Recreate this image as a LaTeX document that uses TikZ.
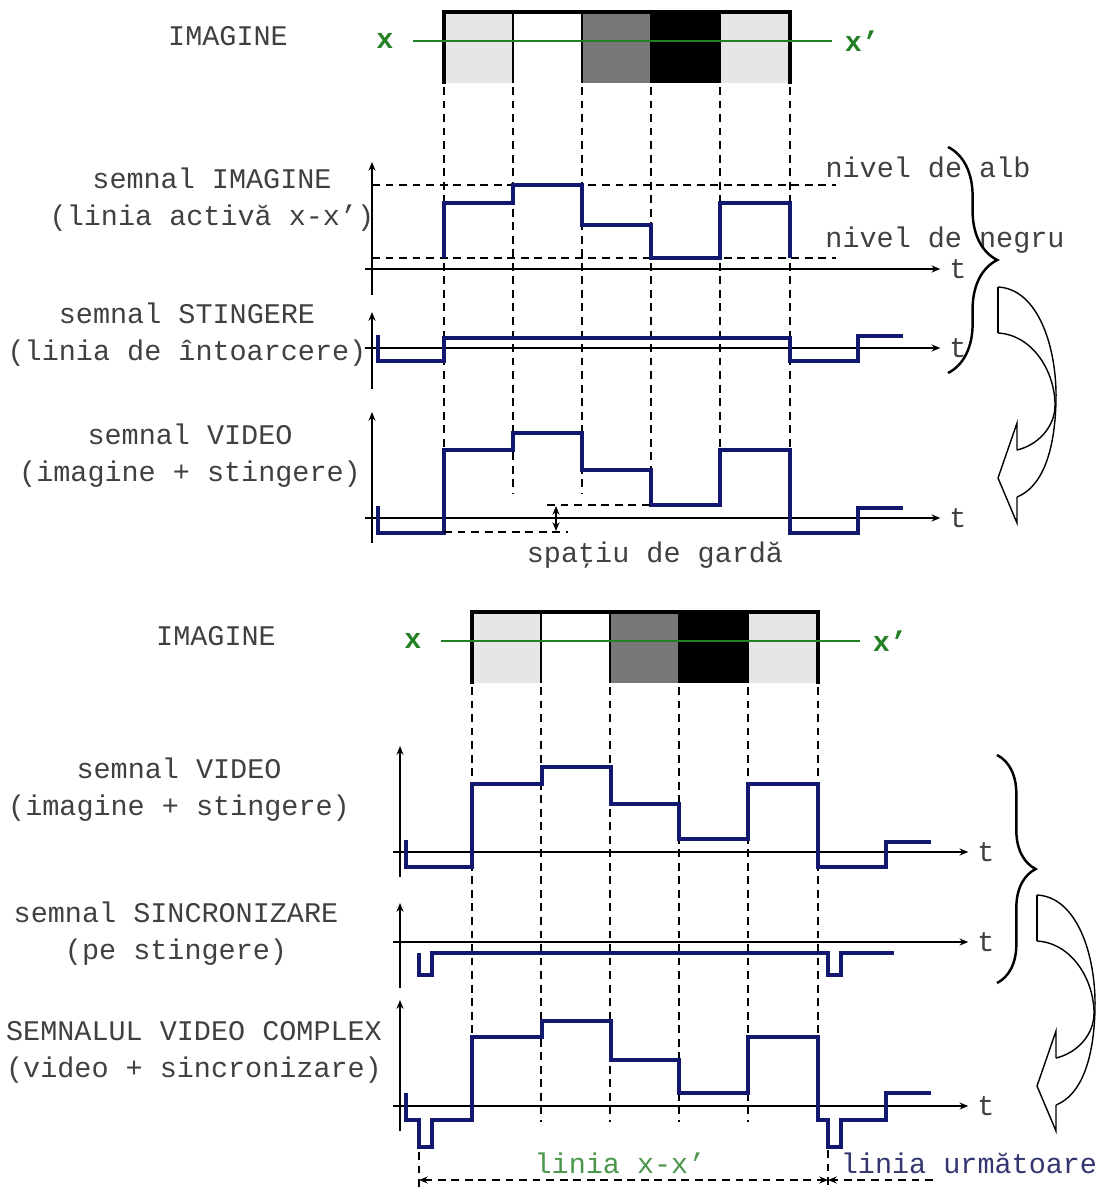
\documentclass[tikz,border=0pt]{standalone}
\usepackage{fontspec}
\usetikzlibrary{arrows.meta, decorations.pathreplacing}
\newfontfamily\courierfont{Liberation Mono}
\definecolor{signalnavy}{RGB}{18,24,112}
\definecolor{scangreen}{RGB}{36,128,36}
\definecolor{spangreen}{RGB}{74,150,74}
\definecolor{nextblue}{RGB}{52,54,112}
\definecolor{lightcell}{RGB}{230,230,230}
\definecolor{midcell}{RGB}{120,120,120}
\tikzset{
    axis/.style={-{Stealth[length=5pt, width=4pt]}, line width=0.95pt},
    level/.style={dash pattern=on 4.5pt off 3.2pt, line width=0.95pt},
    guide/.style={level},
    signal/.style={line width=1.9pt, signalnavy},
    scanline/.style={line width=1.1pt, scangreen},
    txt/.style={font=\courierfont\fontsize{16.2}{21}\selectfont, text=black!75, align=center, inner sep=0pt},
    xlabel/.style={font=\courierfont\bfseries\fontsize{16.2}{21}\selectfont, text=scangreen, inner sep=0pt},
    bracket/.style={decorate, decoration={brace, amplitude=#1}, line width=1.4pt},
    turnarrow/.pic={
        \draw[line width=0.8pt] (0,0) -- (0,46);
        \draw[line width=0.8pt] (0,0) .. controls (40,2) and (59,60) .. (58,113) .. controls (57,165) and (44,200) .. (19,210);
        \draw[line width=0.8pt] (0,46) .. controls (35,48) and (57,85) .. (57,118) .. controls (57,140) and (40,158) .. (19,163);
        \draw[line width=0.8pt, line join=miter] (19,163) -- (19,136) -- (0,191) -- (19,236) -- (19,210);
    },
}

\begin{document}
\begin{tikzpicture}[x=0.02cm, y={(0cm,-0.02cm)}]
    \useasboundingbox (0,0) rectangle (1102,1189);

    % the image line x-x', drawn twice (top and bottom)
    \foreach \dx/\dy/\tag/\imgx/\gy in {0/0/top/228/493, 28/600/bot/188/522} {
        \begin{scope}[shift={(\dx,\dy)}]
            \foreach \xa/\xb/\shade in {444/513/lightcell, 513/582/white, 582/651/midcell, 651/720/black, 720/790/lightcell}
                \fill[\shade] (\xa,13) rectangle (\xb,83);
            \foreach \xd in {513,582,651,720}
                \draw[line width=0.8pt] (\xd,13) -- (\xd,83);
            \draw[line width=2.2pt] (444,84) -- (444,12) -- (790,12) -- (790,84);
            \node[xlabel] (x-\tag) at (385,41) {x};
            \node[xlabel] (xp-\tag) at (862,41) {x’};
            \draw[scanline, shorten <=11pt, shorten >=7pt] (x-\tag) -- (xp-\tag);
            \node[txt] (img-\tag) at (\imgx,36) {IMAGINE};
            \foreach \xd in {444,513,582,651,720,790}
                \draw[guide] (\xd,87) -- (\xd,\gy);
        \end{scope}
    }

    % semnal imagine
    \node[txt] (lbl-img) at (212,200) {semnal IMAGINE\\(linia activă x-x’)};
    \draw[axis] (372,295) -- (372,162);
    \node[txt] (t-img) at (958,269) {t};
    \draw[axis, shorten >=5pt] (365,269) -- (t-img.west);
    \draw[level] (372,185) -- (836,185);
    \draw[level] (372,258) -- (836,258);
    \node[txt] (white-lvl) at (928,167) {nivel de alb};
    \node[txt] (black-lvl) at (945,240) {nivel de negru};
    \draw[signal] (444,258) -- (444,203) -- (513,203) -- (513,185) -- (582,185) -- (582,225) -- (651,225)
        -- (651,258) -- (720,258) -- (720,203) -- (790,203) -- (790,258);

    % semnal stingere
    \node[txt] (lbl-blank) at (187,335) {semnal STINGERE\\(linia de întoarcere)};
    \draw[axis] (372,389) -- (372,312);
    \node[txt] (t-blank) at (958,348) {t};
    \draw[axis, shorten >=5pt] (365,348) -- (t-blank.west);
    \draw[signal] (378,335) -- (378,361) -- (444,361) -- (444,338) -- (790,338) -- (790,361) -- (858,361)
        -- (858,336) -- (903,336);

    % semnal video
    \node[txt] (lbl-video) at (190,456) {semnal VIDEO\\(imagine + stingere)};
    \draw[axis] (372,543) -- (372,412);
    \node[txt] (t-video) at (958,518) {t};
    \draw[axis, shorten >=5pt] (365,518) -- (t-video.west);
    \draw[signal] (378,506) -- (378,533) -- (444,533) -- (444,450) -- (513,450) -- (513,433) -- (582,433)
        -- (582,470) -- (651,470) -- (651,505) -- (720,505) -- (720,450) -- (790,450) -- (790,533)
        -- (858,533) -- (858,508) -- (903,508);
    \draw[level] (444,532) -- (568,532);
    \draw[level] (547,505) -- (651,505);
    \draw[{Stealth[length=5pt, width=4pt]}-{Stealth[length=5pt, width=4pt]}, line width=0.95pt] (556,506) -- (556,531);
    \node[txt] (guard) at (655,555) {spaţiu de gardă};

    \draw[bracket=28pt] (948,147) -- (948,373);
    \pic at (998,287) {turnarrow};

    % semnal video (jos)
    \node[txt] (lbl-video2) at (179,790) {semnal VIDEO\\(imagine + stingere)};
    \draw[axis] (400,877) -- (400,746);
    \node[txt] (t-video2) at (986,852) {t};
    \draw[axis, shorten >=5pt] (393,852) -- (t-video2.west);
    \draw[signal] (406,840) -- (406,867) -- (472,867) -- (472,784) -- (542,784) -- (542,767) -- (611,767)
        -- (611,804) -- (679,804) -- (679,839) -- (748,839) -- (748,784) -- (818,784) -- (818,867)
        -- (886,867) -- (886,842) -- (931,842);

    % semnal sincronizare
    \node[txt] (lbl-sync) at (176,934) {semnal SINCRONIZARE\\(pe stingere)};
    \draw[axis] (400,988) -- (400,903);
    \node[txt] (t-sync) at (986,942) {t};
    \draw[axis, shorten >=5pt] (393,942) -- (t-sync.west);
    \draw[signal] (419,953) -- (419,975) -- (432,975) -- (432,953) -- (828,953) -- (828,975) -- (841,975)
        -- (841,953) -- (894,953);

    % semnal video complex
    \node[txt] (lbl-cvbs) at (194,1052) {SEMNALUL VIDEO COMPLEX\\(video + sincronizare)};
    \draw[axis] (400,1131) -- (400,1000);
    \node[txt] (t-cvbs) at (986,1106) {t};
    \draw[axis, shorten >=5pt] (393,1106) -- (t-cvbs.west);
    \draw[signal] (406,1093) -- (406,1120) -- (419,1120) -- (419,1147) -- (432,1147) -- (432,1120)
        -- (472,1120) -- (472,1037) -- (542,1037) -- (542,1021) -- (611,1021) -- (611,1060) -- (679,1060)
        -- (679,1093) -- (748,1093) -- (748,1037) -- (818,1037) -- (818,1120) -- (828,1120) -- (828,1147)
        -- (841,1147) -- (841,1120) -- (886,1120) -- (886,1093) -- (931,1093);

    \draw[bracket=22pt] (997,755) -- (997,983);
    \pic at (1037,895) {turnarrow};

    % durata liniei
    \coordinate (span-a) at (419,1180);
    \coordinate (span-b) at (828,1180);
    \coordinate (span-c) at (933,1180);
    \draw[guide] (419,1152) -- (419,1189);
    \draw[guide] (828,1150) -- (828,1189);
    \draw[level, {Stealth[length=5pt, width=4pt]}-{Stealth[length=5pt, width=4pt]}] (span-a) -- (span-b);
    \draw[level, -{Stealth[length=5pt, width=4pt]}] (span-c) -- (span-b);
    \node[txt, text=spangreen] (span-lbl) at (620,1163) {linia x-x’};
    \node[txt, text=nextblue] (next-lbl) at (969,1163) {linia următoare};
\end{tikzpicture}
\end{document}
